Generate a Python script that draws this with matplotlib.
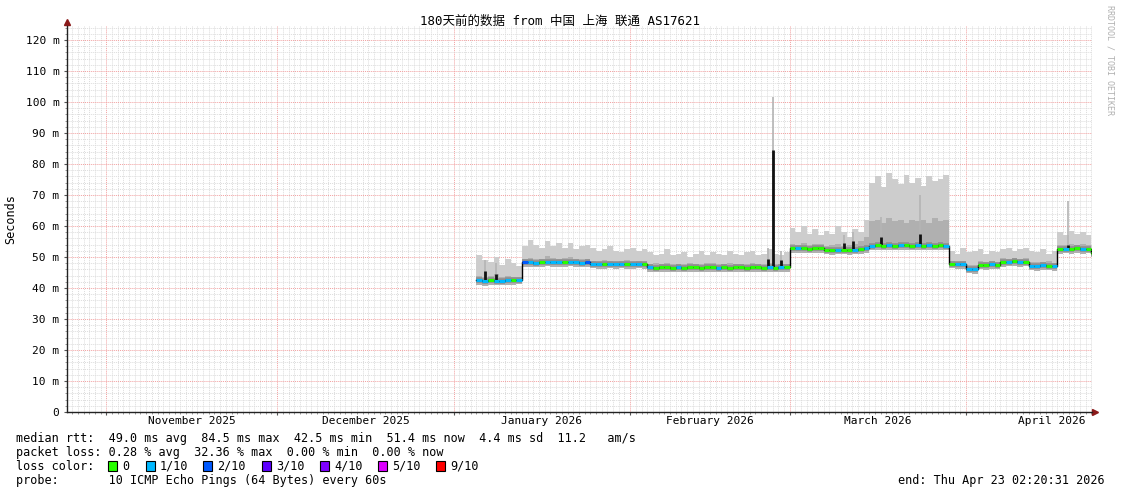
import datetime as dt

import matplotlib
matplotlib.use("Agg")
import matplotlib.pyplot as plt
import matplotlib.dates as mdates
from matplotlib.patches import Rectangle
import numpy as np

plt.rcParams['font.family'] = ['DejaVu Sans Mono', 'Noto Sans CJK SC']

# ---- data (one value per day, starting 2026-01-05) ----
median = [42.6, 42.4, 42.5, 42.3, 42.4, 42.5, 42.6, 42.7,
          48.3, 48.4, 48.2, 48.3, 48.5, 48.4, 48.3, 48.4, 48.5, 48.3, 48.2, 48.4,
          47.8, 47.7, 47.6, 47.8, 47.7, 47.8, 47.6, 47.7, 47.8, 47.6,
          46.8, 46.6, 46.7, 46.8, 46.6, 46.7, 46.6, 46.8, 46.7, 46.6, 46.7, 46.8, 46.6,
          46.7, 46.6, 46.8, 46.7, 46.6, 46.7, 46.8, 46.6, 46.7, 46.6, 46.8, 46.7,
          52.8, 52.9, 52.8, 52.7, 52.8, 52.9, 52.3, 52.2, 52.3, 52.4, 52.2, 52.3, 52.6, 52.8,
          53.7, 53.8, 53.6, 53.8, 53.7, 53.9, 53.8, 53.7, 53.8, 53.6, 53.8, 53.7, 53.8, 53.7,
          47.8, 47.6, 47.7,
          46.2, 46.1,
          47.5, 47.4, 47.6, 47.5,
          48.4, 48.5, 48.6, 48.4, 48.5,
          47.2, 47.1, 47.3, 47.2, 47.1,
          52.6, 52.7, 52.6, 52.8, 52.6, 52.7,
          51.4]

loss = [1, 1, 0, 1, 1, 1, 0, 1,
        2, 1, 1, 0, 1, 1, 1, 0, 1, 1, 1, 2,
        1, 1, 0, 1, 1, 1, 0, 1, 1, 0,
        1, 0, 0, 0, 0, 1, 0, 0, 0, 0, 0, 0, 1, 0, 0, 0, 0, 0, 0, 0, 0, 1, 0, 1, 0,
        0, 1, 0, 0, 0, 0, 0, 0, 1, 0, 0, 1, 0, 1,
        1, 0, 0, 1, 0, 1, 0, 0, 1, 0, 1, 0, 0, 1,
        0, 1, 1,
        1, 1,
        0, 0, 1, 0,
        0, 1, 0, 1, 0,
        1, 1, 1, 0, 1,
        0, 1, 0, 0, 1, 0,
        0]

smoke_max = [50.5, 49.0, 48.5, 50.0, 47.5, 49.5, 48.0, 47.0,
             53.5, 55.5, 54.0, 53.0, 55.0, 53.5, 54.5, 53.0, 54.5, 52.5, 53.5, 54.0,
             53.0, 52.0, 52.5, 53.5, 52.0, 51.5, 52.5, 53.0, 52.0, 52.5,
             51.5, 50.5, 51.0, 52.5, 50.5, 51.0, 51.5, 50.0, 51.0, 52.0, 50.5, 51.5, 51.0,
             50.5, 52.0, 51.0, 50.5, 51.5, 52.0, 50.5, 51.0, 52.5, 51.0, 50.5, 51.5,
             59.5, 58.0, 60.0, 57.5, 59.0, 57.0, 58.5, 57.5, 60.0, 58.0, 56.5, 59.0, 58.0, 62.0,
             74.0, 76.0, 72.5, 77.0, 75.0, 73.5, 76.5, 74.0, 75.5, 73.0, 76.0, 74.5, 75.0, 76.5,
             52.0, 51.0, 53.0,
             51.5, 52.0,
             52.5, 51.0, 52.0, 51.5,
             52.5, 53.0, 52.0, 52.5, 53.0,
             52.0, 51.5, 52.5, 51.0, 52.0,
             58.0, 57.0, 58.5, 57.5, 58.0, 57.0,
             54.0]

smoke_mid = [44.0, 43.5, 43.8, 44.5, 43.5, 44.0, 43.6, 43.5,
             49.5, 49.8, 49.3, 49.5, 50.2, 49.6, 49.3, 49.6, 49.9, 49.3, 49.5, 49.4,
             48.8, 48.5, 48.9, 48.8, 48.5, 48.8, 49.0, 48.5, 48.8, 48.5,
             47.8, 48.0, 47.8, 48.1, 47.7, 47.6, 47.8, 48.0, 47.8, 47.7, 48.0, 47.9, 47.6,
             47.8, 48.0, 47.8, 47.6, 47.8, 48.0, 47.8, 47.7, 48.1, 47.8, 47.6, 47.8,
             54.3, 54.0, 54.6, 54.0, 54.3, 54.1, 53.6, 53.8, 54.2, 53.6, 53.8, 54.2, 55.0, 56.5,
             61.5, 62.0, 61.0, 62.5, 61.5, 62.0, 61.0, 62.0, 61.5, 62.0, 61.0, 62.5, 61.5, 62.0,
             48.8, 48.5, 48.8,
             47.3, 47.5,
             48.6, 48.4, 48.8, 48.5,
             49.6, 49.5, 49.8, 49.4, 49.7,
             48.3, 48.5, 48.4, 48.6, 48.2,
             54.0, 53.8, 54.3, 53.9, 54.1, 53.8,
             52.5]

smoke_min = [41.0, 40.8, 41.0, 40.9, 41.0, 41.1, 41.0, 41.2,
             46.8, 46.9, 46.7, 46.8, 47.0, 46.9, 46.8, 46.9, 47.0, 46.8, 46.7, 46.9,
             46.3, 46.2, 46.1, 46.3, 46.2, 46.3, 46.1, 46.2, 46.3, 46.1,
             45.3, 45.1, 45.2, 45.3, 45.1, 45.2, 45.1, 45.3, 45.2, 45.1, 45.2, 45.3, 45.1,
             45.2, 45.1, 45.3, 45.2, 45.1, 45.2, 45.3, 45.1, 45.2, 45.1, 45.3, 45.2,
             51.3, 51.4, 51.3, 51.2, 51.3, 51.4, 50.8, 50.7, 50.8, 50.9, 50.7, 50.8, 51.1, 51.3,
             52.2, 52.3, 52.1, 52.3, 52.2, 52.4, 52.3, 52.2, 52.3, 52.1, 52.3, 52.2, 52.3, 52.2,
             46.3, 46.1, 46.2,
             44.7, 44.6,
             46.0, 45.9, 46.1, 46.0,
             46.9, 47.0, 47.1, 46.9, 47.0,
             45.7, 45.6, 45.8, 45.7, 45.6,
             51.1, 51.2, 51.1, 51.3, 51.1, 51.2,
             49.9]

# short spikes
spike_time = ["2026-01-06 12:00", "2026-01-08 09:00", "2026-02-25 06:00", "2026-02-26 02:00",
              "2026-02-27 12:00", "2026-03-10 14:00", "2026-03-12 05:00", "2026-03-17 02:00",
              "2026-03-23 21:00", "2026-04-18 21:00"]
spike_median = [45.5, 44.5, 49.5, 84.5, 49.0, 54.5, 55.0, 56.5, 57.5, 54.0]
spike_max = [49.0, 48.0, 53.0, 101.5, 52.0, 57.0, 58.0, 63.0, 70.0, 68.0]

loss_colors = {0: '#26ff00', 1: '#00b8ff', 2: '#0059ff', 3: '#5e00ff',
               4: '#7e00ff', 5: '#dd00ff', 9: '#ff0000'}
loss_labels = ['0', '1/10', '2/10', '3/10', '4/10', '5/10', '9/10']

month_labels = ['November 2025', 'December 2025', 'January 2026',
                'February 2026', 'March 2026', 'April 2026']

start = dt.datetime(2025, 10, 25, 2, 20, 31)
end = dt.datetime(2026, 4, 23, 2, 20, 31)
data_start = dt.datetime(2026, 1, 5)

days = [data_start + dt.timedelta(days=i) for i in range(len(median))]
xs = days + [end]

def ext(v):
    return list(v) + [v[-1]]

W, H = 1121, 494
fig = plt.figure(figsize=(W / 100, H / 100), dpi=100)
ax = fig.add_axes([67 / W, 82 / H, 1025 / W, 386 / H])

# smoke
ax.fill_between(xs, ext(smoke_min), ext(smoke_max), step='post', color='#cdcdcd', lw=0, zorder=2)
ax.fill_between(xs, ext(smoke_min), ext(smoke_mid), step='post', color='#b0b0b0', lw=0, zorder=3)
ax.hlines(median, days, xs[1:], colors='#8e8e8e', lw=4, zorder=4)

sp_t = [dt.datetime.strptime(s, "%Y-%m-%d %H:%M") for s in spike_time]
sp_base = [median[min(max((t - data_start).days, 0), len(median) - 1)] for t in sp_t]
ax.vlines(sp_t, sp_base, spike_max, color='#b4b4b4', lw=1.2, zorder=4)

# median
ax.step(xs, ext(median), where='post', color='black', lw=1.0, zorder=5)
ax.vlines(sp_t, sp_base, spike_median, color='#111111', lw=2, zorder=5)
ax.hlines(median, days, xs[1:], colors=[loss_colors[l] for l in loss], lw=2.2, zorder=6)

# axes
ax.set_xlim(start, end)
ax.set_ylim(0, 124.5)
ax.xaxis.set_major_locator(mdates.MonthLocator())
ax.xaxis.set_minor_locator(mdates.DayLocator())
ax.xaxis.set_major_formatter(plt.NullFormatter())
ax.set_yticks(np.arange(0, 121, 10))
ax.set_yticks(np.arange(0, 125, 2), minor=True)
ax.set_yticklabels(['0'] + ['%d m' % v for v in range(10, 121, 10)])
ax.tick_params(axis='both', which='major', length=2.5, width=0.8, color='#555555',
               labelsize=8, pad=3)
ax.tick_params(axis='both', which='minor', length=1.2, width=0.6, color='#888888')
ax.grid(which='minor', color='#dcdcdc', lw=0.7, ls=(0, (1, 1)))
ax.grid(which='major', color='#f2a0a0', lw=0.7, ls=(0, (1, 1)))
ax.set_axisbelow(True)
for s in ['top', 'right']:
    ax.spines[s].set_visible(False)
for s in ['left', 'bottom']:
    ax.spines[s].set_color('#222222')
    ax.spines[s].set_linewidth(1)
ax.plot([0], [1.01], marker='^', color='#8b1a1a', ms=4, transform=ax.transAxes, clip_on=False)
ax.plot([1.003], [0], marker='>', color='#8b1a1a', ms=4, transform=ax.transAxes, clip_on=False)

for i, lab in enumerate(month_labels):
    m0 = dt.datetime(2025 + (10 + i) // 12, (10 + i) % 12 + 1, 1)
    m1 = dt.datetime(2025 + (11 + i) // 12, (11 + i) % 12 + 1, 1)
    ax.text(m0 + (m1 - m0) / 2, -9 / 386, lab, transform=ax.get_xaxis_transform(),
            ha='center', va='center', fontsize=8)

def fx(x):
    return x / W

def fy(y):
    return 1 - y / H

fig.text(fx(560), fy(21), '180天前的数据 from 中国 上海 联通 AS17621', ha='center', va='center', fontsize=9)
fig.text(fx(11), fy(219), 'Seconds', rotation=90, ha='center', va='center', fontsize=8.5)
fig.text(fx(1110), fy(5), 'RRDTOOL / TOBI OETIKER', rotation=270, ha='center', va='top',
         fontsize=6, color='#b0b0b0')

fs = 8.5
fig.text(fx(16), fy(438), 'median rtt:  49.0 ms avg  84.5 ms max  42.5 ms min  51.4 ms now  4.4 ms sd  11.2   am/s',
         va='center', fontsize=fs)
fig.text(fx(16), fy(452), 'packet loss: 0.28 % avg  32.36 % max  0.00 % min  0.00 % now',
         va='center', fontsize=fs)
fig.text(fx(16), fy(466), 'loss color:', va='center', fontsize=fs)
sq_x = [108, 146, 203, 262, 320, 378, 436]
for x, lab, key in zip(sq_x, loss_labels, [0, 1, 2, 3, 4, 5, 9]):
    fig.add_artist(Rectangle((fx(x), fy(471)), 9 / W, 10 / H, transform=fig.transFigure,
                             facecolor=loss_colors[key], edgecolor='black', lw=0.8))
    fig.text(fx(x + 14), fy(466), lab, va='center', fontsize=fs)
fig.text(fx(16), fy(480), 'probe:       10 ICMP Echo Pings (64 Bytes) every 60s', va='center', fontsize=fs)
fig.text(fx(1105), fy(480), 'end: Thu Apr 23 02:20:31 2026', ha='right', va='center', fontsize=fs)

fig.savefig('out.png', dpi=100)
